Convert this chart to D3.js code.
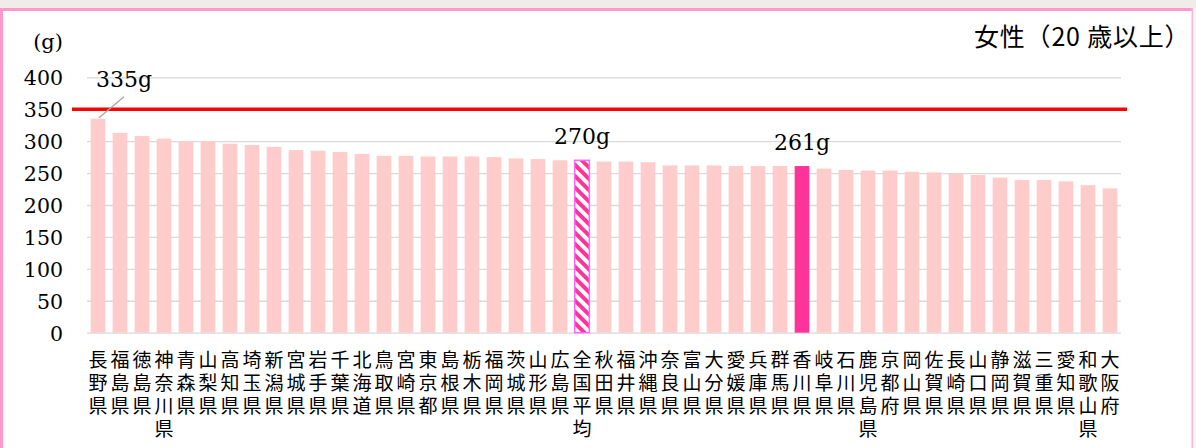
<!DOCTYPE html>
<html><head><meta charset="utf-8">
<script src="https://cdn.jsdelivr.net/npm/d3@7"></script>
<style>
html,body{margin:0;padding:0;background:#fff;}
svg{display:block;}
</style></head>
<body>
<svg id="chart" width="1196" height="448"></svg>
<script>
const categories = ["長野県","福島県","徳島県","神奈川県","青森県","山梨県","高知県","埼玉県","新潟県","宮城県","岩手県","千葉県","北海道","鳥取県","宮崎県","東京都","島根県","栃木県","福岡県","茨城県","山形県","広島県","全国平均","秋田県","福井県","沖縄県","奈良県","富山県","大分県","愛媛県","兵庫県","群馬県","香川県","岐阜県","石川県","鹿児島県","京都府","岡山県","佐賀県","長崎県","山口県","静岡県","滋賀県","三重県","愛知県","和歌山県","大阪府"];
const values = [335,313,308,304,300,300,296,294,291,286,285,283,280,277,277,276,276,276,275,273,272,270,270,268,268,267,262,262,262,261,261,261,261,257,255,254,254,252,251,249,247,243,239,239,237,231,226];
const yTicks = [0,50,100,150,200,250,300,350,400];
const targetValue = 350;
const averageName = "全国平均";
const highlightName = "香川県";
const labelled = [{name:"長野県", text:"335g"},{name:"全国平均", text:"270g"},{name:"香川県", text:"261g"}];
const titleText = "女性（20 歳以上）";
const unitText = "(g)";

const svg = d3.select("#chart");
const W = 1196, H = 448;

// frame
svg.append("rect").attr("x",0).attr("y",0).attr("width",W).attr("height",H).attr("fill","#fff");
svg.append("rect").attr("x",0).attr("y",0).attr("width",W).attr("height",8).attr("fill","#EFECE9");
svg.append("rect").attr("x",1193).attr("y",8).attr("width",3).attr("height",H-8).attr("fill","#F7F5F4");
svg.append("rect").attr("x",0).attr("y",8).attr("width",1193).attr("height",3).attr("fill","#FF99CC");
svg.append("rect").attr("x",0).attr("y",8).attr("width",3).attr("height",H-8).attr("fill","#FF99CC");
svg.append("rect").attr("x",1191.5).attr("y",8).attr("width",1.5).attr("height",H-8).attr("fill","#F9B5D6");

const x = d3.scaleBand().domain(categories).range([87,1121]).paddingInner(0.332).paddingOuter(0.166);
const y = d3.scaleLinear().domain([0,400]).range([332.7,77.3]);

// pattern
const defs = svg.append("defs");
const pat = defs.append("pattern").attr("id","hatch").attr("patternUnits","userSpaceOnUse")
  .attr("width",8).attr("height",8).attr("patternTransform","rotate(-45)");
pat.append("rect").attr("width",8).attr("height",8).attr("fill","#fff");
pat.append("rect").attr("x",0).attr("width",4).attr("height",8).attr("fill","#FF3399");

// gridlines
const grid = svg.append("g").attr("transform","translate(87,0)")
  .call(d3.axisLeft(y).tickValues(yTicks).tickSize(-(1121-87)).tickFormat(""));
grid.select(".domain").remove();
grid.selectAll(".tick line").attr("stroke","#D9D9D9").attr("stroke-width",1.3);

// y tick labels
const yAxis = svg.append("g").attr("transform","translate(63,0)")
  .call(d3.axisLeft(y).tickValues(yTicks).tickSize(0).tickPadding(0));
yAxis.select(".domain").remove();
yAxis.selectAll(".tick text").attr("font-family","'DejaVu Serif', serif").attr("font-size",20.5)
  .attr("fill","#000").attr("dy","0.36em");

svg.append("text").attr("x",63).attr("y",49).attr("text-anchor","end")
  .attr("font-family","'DejaVu Serif', serif").attr("font-size",21).attr("fill","#000").text(unitText);

// bars
const data = categories.map((c,i)=>({c, v:values[i]}));
svg.append("g").selectAll("rect").data(data).join("rect")
  .attr("x",d=>x(d.c)).attr("width",x.bandwidth())
  .attr("y",d=>y(d.v)).attr("height",d=>y(0)-y(d.v))
  .attr("fill",d=> d.c===averageName ? "url(#hatch)" : d.c===highlightName ? "#FF3399" : "#FFCCCC")
  .attr("stroke",d=> d.c===averageName ? "#FF66FF" : "none")
  .attr("stroke-width",d=> d.c===averageName ? 1.5 : 0);

// target line
svg.append("line").attr("x1",72).attr("x2",1127).attr("y1",y(targetValue)).attr("y2",y(targetValue))
  .attr("stroke","#FF0000").attr("stroke-width",3.5);

// value labels
const valOf = c => values[categories.indexOf(c)];
labelled.forEach((l,i)=>{
  const cx = x(l.name)+x.bandwidth()/2;
  if(i===0){
    svg.append("line").attr("x1",cx+1).attr("y1",y(valOf(l.name))-1)
      .attr("x2",cx+26).attr("y2",y(valOf(l.name))-22)
      .attr("stroke","#A6A6A6").attr("stroke-width",1.3);
    svg.append("text").attr("x",cx-2).attr("y",y(valOf(l.name))-32)
      .attr("font-family","'DejaVu Serif', serif").attr("font-size",22).attr("fill","#000").text(l.text);
  } else {
    svg.append("text").attr("x",cx).attr("y",y(valOf(l.name))-16).attr("text-anchor","middle")
      .attr("font-family","'DejaVu Serif', serif").attr("font-size",22).attr("fill","#000").text(l.text);
  }
});

// category labels (vertical writing, one text per column)
const lab = svg.append("g").attr("font-family","'Noto Sans CJK JP', sans-serif").attr("font-size",19).attr("fill","#000");
categories.forEach(c=>{
  const cx = x(c)+x.bandwidth()/2;
  lab.append("text").attr("x",cx).attr("y",350)
    .style("writing-mode","vertical-rl").style("text-orientation","upright")
    .attr("letter-spacing",4)
    .text(c);
});

// title
svg.append("text").attr("x",974).attr("y",46)
  .attr("font-family","'Noto Sans CJK JP', sans-serif").attr("font-size",25).attr("letter-spacing",0.8)
  .attr("fill","#000").text(titleText);
</script>
</body></html>
